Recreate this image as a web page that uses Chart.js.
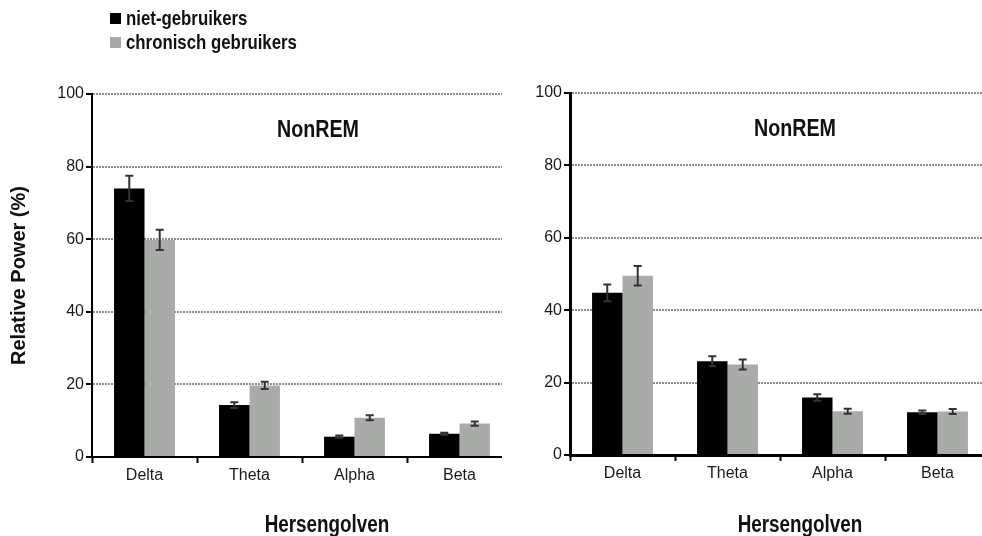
<!DOCTYPE html>
<html>
<head>
<meta charset="utf-8">
<script src="https://cdn.jsdelivr.net/npm/chart.js@4.4.1/dist/chart.umd.min.js"></script>
<style>
  html, body { margin:0; padding:0; background:#fff; overflow:hidden; width:982px; height:536px; }
  #leftWrap { position:absolute; left:0; top:0; width:502px; height:536px; overflow:hidden; }
  #rightWrap { position:absolute; left:505px; top:0; width:490px; height:536px; }
  #legend { position:absolute; left:110px; top:6px; font-family:"Liberation Sans", Arial, sans-serif; font-weight:bold; font-size:20.5px; color:#111; line-height:24px; }
  #legend .row { display:flex; align-items:center; height:24px; }
  #legend .sw { width:11px; height:11px; margin-right:5px; flex:none; }
  #legend .tx { display:inline-block; transform:scaleX(0.82); transform-origin:left center; white-space:nowrap; }
</style>
</head>
<body>
<div id="leftWrap"><canvas id="left" width="515" height="536"></canvas></div>
<div id="rightWrap"><canvas id="right" width="490" height="536"></canvas></div>
<div id="legend">
  <div class="row"><span class="sw" style="background:#000"></span><span class="tx" id="lg1"></span></div>
  <div class="row"><span class="sw" style="background:#a9aba9"></span><span class="tx" id="lg2"></span></div>
</div>
<script>
// ---- data ----
const categories = ['Delta', 'Theta', 'Alpha', 'Beta'];
const seriesNames = ['niet-gebruikers', 'chronisch gebruikers'];
const yTicks = [0, 20, 40, 60, 80, 100];
const panelTitle = 'NonREM';
const xTitle = 'Hersengolven';
const yTitle = 'Relative Power (%)';

const leftNonUsers = [74, 14.3, 5.6, 6.4];
const leftNonUsersErr = [3.5, 0.8, 0.3, 0.3];
const leftChronic = [59.8, 19.7, 10.8, 9.2];
const leftChronicErr = [2.8, 1.0, 0.7, 0.6];

const rightNonUsers = [44.8, 25.9, 15.9, 11.8];
const rightNonUsersErr = [2.3, 1.4, 0.9, 0.5];
const rightChronic = [49.5, 25.0, 12.1, 12.0];
const rightChronicErr = [2.7, 1.4, 0.7, 0.7];

document.getElementById('lg1').textContent = seriesNames[0];
document.getElementById('lg2').textContent = seriesNames[1];

const sansFamily = '"Liberation Sans", Arial, sans-serif';

const errorBars = {
  id: 'errorBars',
  afterDatasetsDraw(chart) {
    const ctx = chart.ctx;
    const y = chart.scales.y;
    chart.data.datasets.forEach((ds, di) => {
      const meta = chart.getDatasetMeta(di);
      meta.data.forEach((bar, i) => {
        const v = ds.data[i], e = ds.errors[i];
        const yt = y.getPixelForValue(v + e), yb = y.getPixelForValue(v - e);
        ctx.save();
        ctx.strokeStyle = '#333';
        ctx.lineWidth = 2;
        ctx.beginPath();
        ctx.moveTo(bar.x, yt); ctx.lineTo(bar.x, yb);
        ctx.moveTo(bar.x - 4, yt); ctx.lineTo(bar.x + 4, yt);
        ctx.moveTo(bar.x - 4, yb); ctx.lineTo(bar.x + 4, yb);
        ctx.stroke();
        ctx.restore();
      });
    });
  }
};

function narrowText(ctx, text, x, y, size) {
  ctx.save();
  ctx.font = 'bold ' + size + 'px ' + sansFamily;
  ctx.translate(x, y);
  ctx.scale(0.82, 1);
  ctx.fillText(text, 0, 0);
  ctx.restore();
}

const texts = {
  id: 'texts',
  afterDraw(chart, args, opts) {
    const ctx = chart.ctx, a = chart.chartArea;
    const cx = (a.left + a.right) / 2;
    ctx.save();
    ctx.fillStyle = '#111';
    ctx.textAlign = 'center';
    ctx.textBaseline = 'alphabetic';
    narrowText(ctx, panelTitle, cx + opts.titleDx, a.top + 43, 24);
    narrowText(ctx, xTitle, cx + opts.xTitleDx, 532, 23);
    ctx.restore();
  }
};

function makeChart(id, nonUsers, nonErr, chronic, chrErr, opt) {
  return new Chart(document.getElementById(id), {
    type: 'bar',
    data: {
      labels: categories,
      datasets: [
        { label: seriesNames[0], data: nonUsers, errors: nonErr, backgroundColor: '#000000' },
        { label: seriesNames[1], data: chronic, errors: chrErr, backgroundColor: '#a9aba9' }
      ]
    },
    options: {
      responsive: false,
      animation: false,
      events: [],
      categoryPercentage: 0.58,
      barPercentage: 1.0,
      layout: { padding: { top: opt.top, right: opt.right, left: 0, bottom: 0 } },
      plugins: {
        legend: { display: false },
        tooltip: { enabled: false },
        texts: { titleDx: opt.titleDx, xTitleDx: opt.xTitleDx }
      },
      scales: {
        x: {
          afterFit(s) { s.height = 536 - opt.bottom; },
          grid: { display: true, drawOnChartArea: false, drawTicks: true, tickLength: 6, tickColor: '#000', tickWidth: 2 },
          border: { display: true, color: '#000', width: opt.axisW },
          ticks: { color: '#1a1a1a', font: { family: sansFamily, size: 16 }, padding: 3 }
        },
        y: {
          min: 0, max: 100,
          afterBuildTicks(s) { s.ticks = yTicks.map(v => ({ value: v })); },
          afterFit(s) { s.width = opt.yw; },
          grid: {
            color: (c) => (c.tick && c.tick.value === 0) ? 'rgba(0,0,0,0)' : '#8e8e8e',
            lineWidth: 2,
            drawTicks: true, tickLength: 6, tickColor: '#000', tickWidth: 2
          },
          border: { display: true, color: '#000', width: opt.axisW, dash: [2, 1] },
          ticks: { color: '#1a1a1a', font: { family: sansFamily, size: 16 }, padding: 2 },
          title: {
            display: opt.showYTitle, text: yTitle, color: '#111',
            font: { family: sansFamily, size: 20, weight: 'bold' },
            padding: { top: 7, bottom: 0 }
          }
        }
      }
    },
    plugins: [errorBars, texts]
  });
}

makeChart('left', leftNonUsers, leftNonUsersErr, leftChronic, leftChronicErr,
  { top: 94, bottom: 457, right: 3, yw: 92, axisW: 2, showYTitle: true, titleDx: 16, xTitleDx: 25 });
makeChart('right', rightNonUsers, rightNonUsersErr, rightChronic, rightChronicErr,
  { top: 93, bottom: 455, right: 5, yw: 65, axisW: 3, showYTitle: false, titleDx: 15, xTitleDx: 20 });
</script>
</body>
</html>
